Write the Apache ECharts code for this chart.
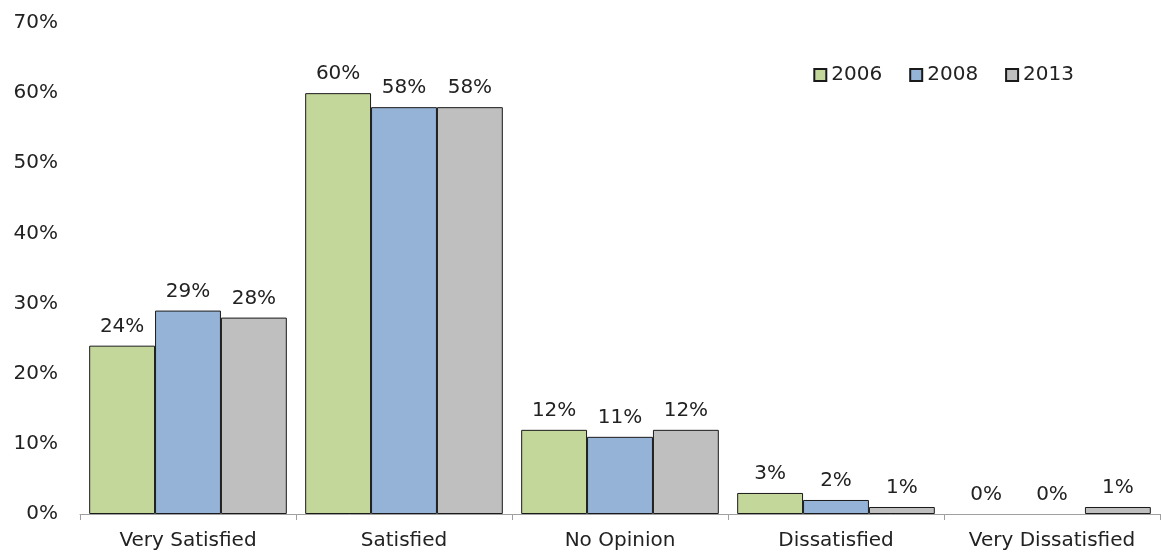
<!DOCTYPE html>
<html><head><meta charset="utf-8">
<script src="https://cdn.jsdelivr.net/npm/echarts@6/dist/echarts.min.js"></script>
<style>html,body{margin:0;padding:0;background:#fff}#c{width:1161px;height:556px}</style>
</head><body><div id="c"></div>
<script>
const categories = ['Very Satisfied', 'Satisfied', 'No Opinion', 'Dissatisfied', 'Very Dissatisfied'];
const seriesNames = ['2006', '2008', '2013'];
const values2006 = [24, 60, 12, 3, 0];
const values2008 = [29, 58, 11, 2, 0];
const values2013 = [28, 58, 12, 1, 1];
const colors = ['#C4D79B', '#95B3D7', '#BFBFBF'];
const font = 'DejaVu Sans, Verdana, sans-serif';
const all = [values2006, values2008, values2013];
const chart = echarts.init(document.getElementById('c'));
chart.setOption({
  animation: false,
  textStyle: { fontFamily: font },
  grid: { left: 80, right: 1, top: 23, bottom: 42 },
  legend: {
    data: seriesNames.map(n => ({ name: n, icon: 'rect' })), right: 82, top: 60, itemWidth: 12, itemHeight: 12, itemGap: 27,
    textStyle: { fontSize: 20, color: '#222', fontFamily: font }
  },
  xAxis: {
    type: 'category', data: categories,
    axisLine: { lineStyle: { color: '#A0A0A0' } },
    axisTick: { show: true, interval: 0, length: 6, lineStyle: { color: '#A0A0A0' } },
    axisLabel: { interval: 0, fontSize: 20, color: '#222', margin: 17, fontFamily: font }
  },
  yAxis: {
    type: 'value', min: 0, max: 70, interval: 10,
    splitLine: { show: false }, axisLine: { show: false }, axisTick: { show: false },
    axisLabel: { formatter: '{value}%', fontSize: 20, color: '#222', margin: 22, fontFamily: font }
  },
  series: all.map((d, i) => ({
    name: seriesNames[i], type: 'bar',
    data: d.map(v => v === 0 ? { value: v, itemStyle: { borderWidth: 0 } } : v),
    barGap: '0%', barCategoryGap: '8.5%',
    itemStyle: { color: colors[i], borderColor: '#1a1a1a', borderWidth: 1 },
    label: { show: true, position: 'top', distance: 9, formatter: '{c}%', fontSize: 20, color: '#222', fontFamily: font }
  }))
});
</script></body></html>
